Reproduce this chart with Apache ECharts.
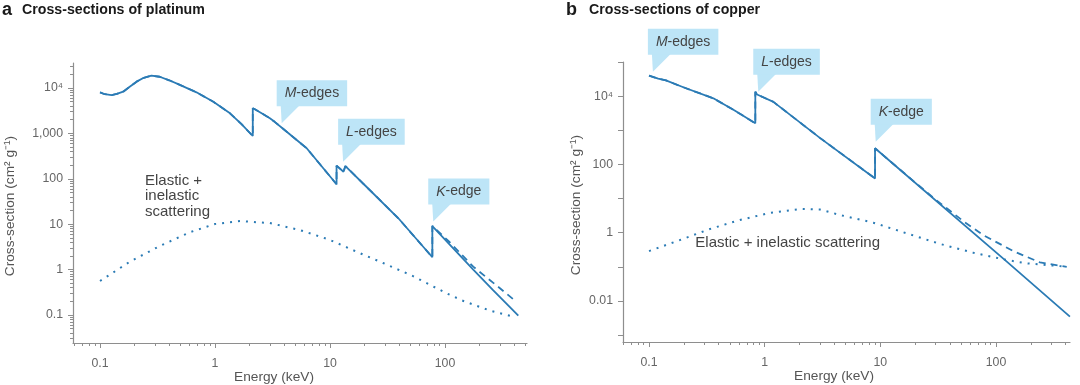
<!DOCTYPE html>
<html><head><meta charset="utf-8">
<script src="https://cdn.jsdelivr.net/npm/echarts@6/dist/echarts.min.js"></script>
<style>html,body{margin:0;padding:0;background:#fff}#c{width:1080px;height:385px}</style>
</head><body><div id="c"></div>
<script>
// ---------------- DATA ----------------
// Panel a: platinum. Energy in keV, cross-section in cm^2 g^-1
const ptE     = [0.1,0.11,0.126,0.14,0.159,0.18,0.208,0.24,0.28,0.33,0.4,0.5,0.69,0.967,1.35,1.7,2.13,2.13,2.2,2.22,2.63,2.66,3.0,3.03,3.3,3.93,6.27,11.4,11.4,13.1,13.6,20,39.3,77.6,77.6,176,263,434];
const ptTotal = [8000,7300,7000,7400,8300,10500,13800,16800,18700,17700,14800,11600,8040,4990,2770,1600,877,3575,3300,3400,2650,2900,2150,2250,1800,1250,470,75.7,195,143,191,73,13.5,1.87,9.1,1.0,0.35,0.097];
// dashed curve: coincides with the solid one up to the K-edge, then lies above it
const ptDashE = [0.1,0.11,0.126,0.14,0.159,0.18,0.208,0.24,0.28,0.33,0.4,0.5,0.69,0.967,1.35,1.7,2.13,2.13,2.2,2.22,2.63,2.66,3.0,3.03,3.3,3.93,6.27,11.4,11.4,13.1,13.6,20,39.3,77.6,77.6,110,176,263,393];
const ptDash  = [8000,7300,7000,7400,8300,10500,13800,16800,18700,17700,14800,11600,8040,4990,2770,1600,877,3575,3300,3400,2650,2900,2150,2250,1800,1250,470,75.7,195,143,191,73,13.5,1.87,9.2,4.0,1.16,0.51,0.222];
const ptScatE = [0.1,0.18,0.33,0.61,1.0,1.65,3.0,5.5,10,18.2,28.9,52.7,78.2,103.5,140,201,246,393];
const ptScat  = [0.56,1.47,3.3,6.7,10.1,11.7,10.6,7.4,4.5,2.3,1.4,0.72,0.43,0.30,0.21,0.15,0.125,0.092];

// Panel b: copper
const cuE     = [0.1,0.12,0.122,0.14,0.198,0.36,0.55,0.83,0.83,0.86,0.875,1.19,3.0,9.0,9.0,124,436];
const cuTotal = [40000,32400,34500,29000,18200,8650,3800,1600,13500,11200,11700,6800,600,39,297,0.142,0.0035];
const cuDashE = [0.1,0.12,0.122,0.14,0.198,0.36,0.55,0.83,0.83,0.86,0.875,1.19,3.0,9.0,9.0,20,30,42.8,52,77.6,141,240,409];
const cuDash  = [40000,32400,34500,29000,18200,8650,3800,1600,13500,11200,11700,6800,600,39,297,29.6,9.3,3.7,2.2,0.85,0.29,0.135,0.10];
const cuScatE = [0.1,0.185,0.337,0.61,1.11,2.02,3.0,4.5,8.7,16.9,32.8,63.7,124,185,275,409];
const cuScat  = [0.29,0.61,1.29,2.36,3.8,4.96,4.8,3.3,1.97,0.96,0.47,0.26,0.159,0.127,0.113,0.101];

// Tick labels (decade exponents and their printed labels)
const xMajorExp   = [-1,0,1,2];
const xTickLabels = ['0.1','1','10','100'];
const ptYMajorExp = [-1,0,1,2,3,4];
const ptYLabels   = ['0.1','1','10','100','1,000','10\u2074'];
const cuYTickExp  = [-3,-2,-1,0,1,2,3,4,5];
const cuYLabelExp = [-2,0,2,4];
const cuYLabels   = ['0.01','1','100','10\u2074'];

// Annotations
const ptCallouts = [{E:3.8,s:1670,a:'M',b:'-edges'},{E:13.0,s:238,a:'L',b:'-edges'},{E:79,s:11.4,a:'K',b:'-edge'}];
const cuCallouts = [{E:0.108,s:52000,a:'M',b:'-edges'},{E:0.88,s:13500,a:'L',b:'-edges'},{E:9.12,s:464,a:'K',b:'-edge'}];

// ---------------- STYLE / LAYOUT ----------------
const FONT = "'Liberation Sans', Arial, sans-serif";
const LINE = '#2b7bb5';
const FILL = '#bde5f7';
const AX = '#8e8e8e';
const panels = [
  {grid:{left:73, top:63, width:454, height:280}, xExp:[-1.235,2.713], yExp:[-1.617,4.551], xNameShift:52},
  {grid:{left:623, top:62, width:447, height:280}, xExp:[-1.225,2.64], yExp:[-3.2,5], xNameShift:25}
];
function minorTicks(lo, hi){
  const out=[];
  for(let n=Math.floor(lo)-1;n<=Math.ceil(hi);n++){
    for(let k=2;k<=9;k++){const v=n+Math.log10(k); if(v>=lo&&v<=hi) out.push(v);}
  }
  return out;
}
const zip=(a,b)=>a.map((v,i)=>[v,b[i]]);
const labelStyle = {color:'#666', fontSize:12.3, fontFamily:FONT};
const nameStyle = {color:'#555', fontSize:13.7, fontFamily:FONT};

const xAxes=[], yAxes=[];
panels.forEach((p,i)=>{
  // data axes (log)
  xAxes.push({gridIndex:i, type:'log', logBase:10, position:'bottom', min:Math.pow(10,p.xExp[0]), max:Math.pow(10,p.xExp[1]),
    axisLine:{show:true,onZero:false,lineStyle:{color:AX,width:1.2}}, axisTick:{show:false}, axisLabel:{show:false}, splitLine:{show:false},
    name:'Energy (keV)', nameLocation:'middle', nameGap:27,
    nameTextStyle:Object.assign({padding:[0,p.xNameShift,0,0]}, nameStyle)});
  // minor ticks
  xAxes.push({gridIndex:i, type:'value', position:'bottom', min:p.xExp[0], max:p.xExp[1],
    axisLine:{show:false,onZero:false}, axisTick:{show:true,length:3,customValues:minorTicks(p.xExp[0],p.xExp[1]),lineStyle:{color:AX}},
    axisLabel:{show:false}, splitLine:{show:false}});
  // major ticks + labels
  xAxes.push({gridIndex:i, type:'value', position:'bottom', min:p.xExp[0], max:p.xExp[1],
    axisLine:{show:false,onZero:false}, axisTick:{show:true,length:5,customValues:xMajorExp,lineStyle:{color:AX}},
    axisLabel:Object.assign({show:true, customValues:xMajorExp, margin:15, formatter:v=>xTickLabels[xMajorExp.indexOf(Math.round(v))]}, labelStyle),
    splitLine:{show:false}});
  yAxes.push({gridIndex:i, type:'log', logBase:10, position:'left', min:Math.pow(10,p.yExp[0]), max:Math.pow(10,p.yExp[1]),
    axisLine:{show:true,onZero:false,lineStyle:{color:AX,width:1.2}}, axisTick:{show:false}, axisLabel:{show:false}, splitLine:{show:false},
    name:'Cross-section (cm\u00B2 g\u207B\u00B9)', nameLocation:'middle', nameRotate:90, nameGap: i===0?56:40,
    nameTextStyle:Object.assign({padding:[0,6,0,0]}, nameStyle)});
});
// left panel y: minor + labelled decades
yAxes.push({gridIndex:0, type:'value', position:'left', min:panels[0].yExp[0], max:panels[0].yExp[1],
  axisLine:{show:false,onZero:false}, axisTick:{show:true,length:3,customValues:minorTicks(panels[0].yExp[0],panels[0].yExp[1]),lineStyle:{color:AX}},
  axisLabel:{show:false}, splitLine:{show:false}});
yAxes.push({gridIndex:0, type:'value', position:'left', min:panels[0].yExp[0], max:panels[0].yExp[1],
  axisLine:{show:false,onZero:false}, axisTick:{show:true,length:5,customValues:ptYMajorExp,lineStyle:{color:AX}},
  axisLabel:Object.assign({show:true, customValues:ptYMajorExp, margin:10, formatter:v=>ptYLabels[ptYMajorExp.indexOf(Math.round(v))]}, labelStyle),
  splitLine:{show:false}});
// right panel y: decade ticks, every second one labelled
yAxes.push({gridIndex:1, type:'value', position:'left', min:panels[1].yExp[0], max:panels[1].yExp[1],
  axisLine:{show:false,onZero:false}, axisTick:{show:true,length:5,customValues:cuYTickExp,lineStyle:{color:AX}},
  axisLabel:Object.assign({show:true, customValues:cuYLabelExp, margin:10, formatter:v=>cuYLabels[cuYLabelExp.indexOf(Math.round(v))]}, labelStyle),
  splitLine:{show:false}});
// axis order: yAxes = [ptLog, cuLog, ptMinor, ptMajor, cuMajor]

function line(data, xi, yi, type){
  const ls = {color:LINE, width: type==='dotted'?2:1.8};
  if(type==='dashed'){ls.type=[7,5];}
  if(type==='dotted'){ls.type=[2,6];}
  return {type:'line', data, xAxisIndex:xi, yAxisIndex:yi, showSymbol:false, symbol:'none', lineStyle:ls, silent:true, z: type==='solid'?2:3};
}
const series = [
  line(zip(ptE,ptTotal),0,0,'solid'),
  line(zip(ptDashE,ptDash),0,0,'dashed'),
  line(zip(ptScatE,ptScat),0,0,'dotted'),
  line(zip(cuE,cuTotal),3,1,'solid'),
  line(zip(cuDashE,cuDash),3,1,'dashed'),
  line(zip(cuScatE,cuScat),3,1,'dotted')
];

const chart = echarts.init(document.getElementById('c'));
chart.setOption({
  animation:false,
  grid: panels.map(p=>Object.assign({containLabel:false, outerBoundsMode:'none'}, p.grid)),
  xAxis: xAxes, yAxis: yAxes, series
});

function callout(si, c){
  const [px,py] = chart.convertToPixel({seriesIndex:si},[c.E,c.s]);
  const top = py-43, bottom = top+26;
  return [
    {type:'polygon', z:20, shape:{points:[[px,py],[px-1,bottom-1],[px+18,bottom-1]]}, style:{fill:FILL}},
    {type:'text', z:21, x:px-5, y:top, style:{
      text:'{i|'+c.a+'}{n|'+c.b+'}', backgroundColor:FILL, padding:[5,8,5,8],
      rich:{i:{fontStyle:'italic',fontSize:14,lineHeight:16,fill:'#444',fontFamily:FONT}, n:{fontSize:14,lineHeight:16,fill:'#444',fontFamily:FONT}}
    }}
  ];
}
const g = [];
ptCallouts.forEach(c=>g.push(...callout(0,c)));
cuCallouts.forEach(c=>g.push(...callout(3,c)));
const T = (x,y,text,st)=>({type:'text', x, y, style:Object.assign({text, fontFamily:FONT, verticalAlign:'middle'}, st)});
g.push(T(2,10,'a',{fontSize:18,fontWeight:'bold',fill:'#1a1a1a'}));
g.push(T(22,10,'Cross-sections of platinum',{fontSize:14.2,fontWeight:'bold',fill:'#1a1a1a'}));
g.push(T(566,10,'b',{fontSize:18,fontWeight:'bold',fill:'#1a1a1a'}));
g.push(T(589,10,'Cross-sections of copper',{fontSize:14.2,fontWeight:'bold',fill:'#1a1a1a'}));
g.push({type:'text', x:145, y:173, style:{text:'Elastic +\ninelastic\nscattering', fontFamily:FONT, fontSize:15, lineHeight:15.5, fill:'#444'}});
g.push(T(880,243,'Elastic + inelastic scattering',{fontSize:15,fill:'#444',align:'right'}));
chart.setOption({graphic:g});
</script>
</body></html>
